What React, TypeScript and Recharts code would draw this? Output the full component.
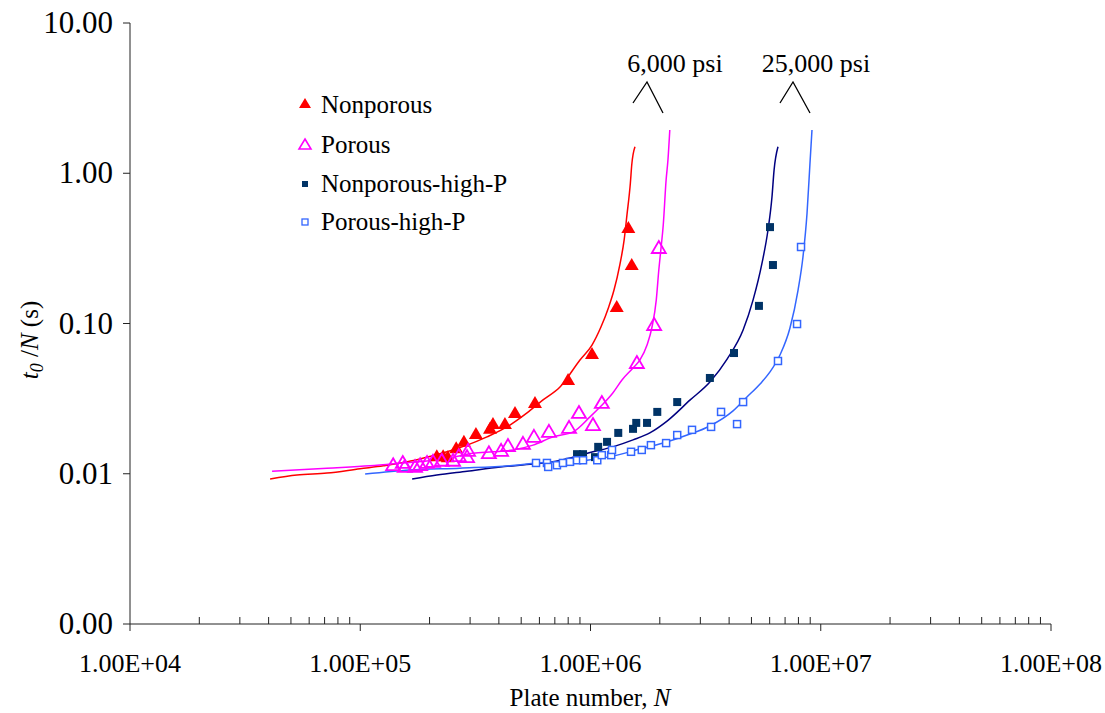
import { ScatterChart, Scatter, XAxis, YAxis } from 'recharts'

const FONT = 'Liberation Serif, Tinos, DejaVu Serif, serif'

// plate number / t0/N measurements
const nonporousN = [2.15e5, 2.29e5, 2.4e5, 2.61e5, 2.82e5, 3.18e5, 3.66e5, 3.77e5, 4.25e5, 4.7e5, 5.74e5, 7.99e5, 1.015e6, 1.3e6, 1.51e6, 1.46e6]
const nonporousT = [0.0131, 0.0131, 0.0129, 0.0148, 0.0163, 0.0184, 0.0199, 0.0214, 0.0214, 0.0254, 0.0296, 0.0421, 0.0627, 0.129, 0.245, 0.432]

const porousN = [1.39e5, 1.53e5, 1.56e5, 1.73e5, 1.82e5, 1.95e5, 2.07e5, 2.26e5, 2.53e5, 2.68e5, 2.91e5, 2.94e5, 3.62e5, 4.09e5, 4.38e5, 5.09e5, 5.68e5, 6.6e5, 8.07e5, 8.91e5, 1.025e6, 1.12e6, 1.59e6, 1.89e6, 1.98e6]
const porousT = [0.0114, 0.0118, 0.0111, 0.0111, 0.0114, 0.0118, 0.012, 0.0122, 0.0122, 0.0131, 0.0129, 0.0142, 0.0137, 0.0142, 0.0153, 0.0158, 0.0176, 0.019, 0.0202, 0.0254, 0.0211, 0.0296, 0.0546, 0.0977, 0.318]

const nonporousHiN = [8.74e5, 9.28e5, 1.046e6, 1.08e6, 1.18e6, 1.32e6, 1.53e6, 1.58e6, 1.76e6, 1.95e6, 2.38e6, 3.3e6, 4.2e6, 5.39e6, 6.2e6, 6.02e6]
const nonporousHiT = [0.0135, 0.0135, 0.0129, 0.0151, 0.0163, 0.0187, 0.0199, 0.0218, 0.0218, 0.0258, 0.03, 0.0434, 0.0636, 0.131, 0.245, 0.438]

const porousHiN = [5.8e5, 6.47e5, 6.55e5, 7.15e5, 7.59e5, 8.15e5, 8.74e5, 9.28e5, 1.07e6, 1.12e6, 1.23e6, 1.24e6, 1.5e6, 1.67e6, 1.83e6, 2.13e6, 2.38e6, 2.76e6, 3.34e6, 3.69e6, 4.33e6, 4.6e6, 6.52e6, 7.89e6, 8.21e6]
const porousHiT = [0.0118, 0.0118, 0.0111, 0.0114, 0.0118, 0.012, 0.0123, 0.0123, 0.0123, 0.0133, 0.0133, 0.0144, 0.014, 0.0144, 0.0155, 0.016, 0.0181, 0.0196, 0.0205, 0.0258, 0.0214, 0.03, 0.0563, 0.0992, 0.323]

// fitted curves
const fitNonporousN = [4.06e4, 5.31e4, 7.17e4, 9.97e4, 1.26e5, 1.6e5, 1.95e5, 2.38e5, 2.91e5, 3.55e5, 4.34e5, 5.3e5, 6.22e5, 7.37e5, 9.0e5, 1.015e6, 1.11e6, 1.2e6, 1.265e6, 1.34e6, 1.4e6, 1.44e6, 1.49e6, 1.51e6, 1.56e6]
const fitNonporousT = [0.00923, 0.00981, 0.0101, 0.0108, 0.0113, 0.012, 0.0129, 0.014, 0.0155, 0.0176, 0.0205, 0.0254, 0.031, 0.0378, 0.0572, 0.0719, 0.0948, 0.129, 0.167, 0.245, 0.36, 0.528, 0.861, 1.13, 1.5]

const fitPorousN = [4.14e4, 7.17e4, 1.1e5, 1.53e5, 2.07e5, 2.53e5, 3.09e5, 3.77e5, 4.61e5, 5.63e5, 6.87e5, 8.4e5, 9.95e5, 1.1e6, 1.25e6, 1.37e6, 1.53e6, 1.64e6, 1.76e6, 1.85e6, 1.93e6, 1.98e6, 2.02e6, 2.07e6, 2.13e6, 2.17e6, 2.21e6]
const fitPorousT = [0.0104, 0.0109, 0.0113, 0.0118, 0.0123, 0.0129, 0.0137, 0.014, 0.0144, 0.0155, 0.0176, 0.019, 0.0239, 0.0278, 0.0345, 0.0421, 0.0506, 0.0572, 0.0719, 0.0948, 0.143, 0.227, 0.308, 0.452, 0.902, 1.23, 1.94]

const fitNonporousHiN = [1.68e5, 2.15e5, 2.91e5, 4.05e5, 5.63e5, 6.87e5, 8.4e5, 1.025e6, 1.25e6, 1.53e6, 1.81e6, 2.15e6, 2.71e6, 3.3e6, 3.92e6, 4.6e6, 5.08e6, 5.56e6, 5.9e6, 6.14e6, 6.27e6, 6.52e6]
const fitNonporousHiT = [0.00923, 0.00981, 0.0104, 0.0111, 0.0116, 0.012, 0.0129, 0.014, 0.0151, 0.0168, 0.0187, 0.0224, 0.031, 0.0408, 0.058, 0.0905, 0.143, 0.253, 0.419, 0.695, 1.05, 1.5]

const fitPorousHiN = [1.05e5, 1.64e5, 2.71e5, 4.47e5, 5.87e5, 7.37e5, 9.66e5, 1.25e6, 1.64e6, 2.07e6, 2.63e6, 3.3e6, 4.16e6, 4.78e6, 5.45e6, 6.02e6, 6.65e6, 7.35e6, 7.97e6, 8.37e6, 8.72e6, 8.98e6, 9.16e6]
const fitPorousHiT = [0.00995, 0.0106, 0.0109, 0.0113, 0.0118, 0.012, 0.0123, 0.0131, 0.0146, 0.016, 0.0181, 0.0208, 0.0262, 0.0324, 0.0396, 0.0476, 0.0617, 0.0933, 0.167, 0.277, 0.544, 1.17, 1.94]

const xTicks = [1e4, 2e4, 3e4, 4e4, 5e4, 6e4, 7e4, 8e4, 9e4, 1e5, 2e5, 3e5, 4e5, 5e5, 6e5, 7e5, 8e5, 9e5, 1e6, 2e6, 3e6, 4e6, 5e6, 6e6, 7e6, 8e6, 9e6, 1e7, 2e7, 3e7, 4e7, 5e7, 6e7, 7e7, 8e7, 9e7, 1e8]
const yTicks = [0.001, 0.01, 0.1, 1, 10]

const zip = (n: number[], t: number[]) => n.map((v, i) => ({ n: v, t: t[i] }))

const isDecade = (v: number) => Math.abs(Math.log10(v) - Math.round(Math.log10(v))) < 1e-9
const sciLabel = (v: number) => {
  const e = Math.round(Math.log10(v))
  return `1.00E+${String(e).padStart(2, '0')}`
}

function XTick(props: any) {
  const { x, y, payload } = props
  const major = isDecade(payload.value)
  return (
    <g>
      <line x1={x} x2={x} y1={y} y2={major ? y + 7 : y - 7} stroke="#222" strokeWidth={1} />
      {major && (
        <text x={x} y={y + 48} textAnchor="middle" fontSize={26} fontFamily={FONT} fill="#000">
          {sciLabel(payload.value)}
        </text>
      )}
    </g>
  )
}

function YTick(props: any) {
  const { x, y, payload } = props
  return (
    <text x={x} y={y} dy={10} textAnchor="end" fontSize={31} fontFamily={FONT} fill="#000">
      {payload.value.toFixed(2)}
    </text>
  )
}

const FilledTriangle = ({ cx, cy }: any) => (
  <polygon points={`${cx},${cy - 7} ${cx + 7},${cy + 5} ${cx - 7},${cy + 5}`} fill="#FF0000" />
)
const OpenTriangle = ({ cx, cy }: any) => (
  <polygon points={`${cx},${cy - 7} ${cx + 7},${cy + 5} ${cx - 7},${cy + 5}`} fill="none" stroke="#FF00FF" strokeWidth={1.8} />
)
const FilledSquare = ({ cx, cy }: any) => <rect x={cx - 4} y={cy - 4} width={8} height={8} fill="#003366" />
const OpenSquare = ({ cx, cy }: any) => (
  <rect x={cx - 3.5} y={cy - 3.5} width={7} height={7} fill="#fff" stroke="#3366FF" strokeWidth={1.5} />
)
const NoDot = () => <g />

const legendRows = [
  { label: 'Nonporous', y: 105, marker: <polygon points="305,98 311,108 299,108" fill="#FF0000" /> },
  { label: 'Porous', y: 145, marker: <polygon points="305,139 311,149 299,149" fill="none" stroke="#FF00FF" strokeWidth={1.6} /> },
  { label: 'Nonporous-high-P', y: 184, marker: <rect x={302} y={181} width={6} height={6} fill="#003366" /> },
  { label: 'Porous-high-P', y: 222, marker: <rect x={302} y={219} width={6} height={6} fill="#fff" stroke="#3366FF" strokeWidth={1.3} /> },
]

export default function App() {
  return (
    <div style={{ position: 'absolute', left: 0, top: 0, width: 1105, height: 713, background: '#fff', fontFamily: FONT }}>
      <ScatterChart width={1105} height={713} margin={{ top: 23, right: 54, bottom: 29, left: 0 }}>
        <XAxis
          type="number"
          dataKey="n"
          scale="log"
          domain={[1e4, 1e8]}
          ticks={xTicks}
          interval={0}
          allowDataOverflow
          height={60}
          tickSize={0}
          tickMargin={0}
          tickLine={false}
          axisLine={{ stroke: '#222' }}
          tick={<XTick />}
        />
        <YAxis
          type="number"
          dataKey="t"
          scale="log"
          domain={[0.001, 10]}
          ticks={yTicks}
          interval={0}
          allowDataOverflow
          width={130}
          tickSize={7}
          tickMargin={10}
          axisLine={{ stroke: '#222' }}
          tickLine={{ stroke: '#222' }}
          tick={<YTick />}
        />
        <Scatter data={zip(fitNonporousN, fitNonporousT)} line={{ stroke: '#FF0000', strokeWidth: 1.5 }} lineJointType="monotoneX" shape={NoDot} isAnimationActive={false} />
        <Scatter data={zip(fitPorousN, fitPorousT)} line={{ stroke: '#FF00FF', strokeWidth: 1.5 }} lineJointType="monotoneX" shape={NoDot} isAnimationActive={false} />
        <Scatter data={zip(fitNonporousHiN, fitNonporousHiT)} line={{ stroke: '#000080', strokeWidth: 1.5 }} lineJointType="monotoneX" shape={NoDot} isAnimationActive={false} />
        <Scatter data={zip(fitPorousHiN, fitPorousHiT)} line={{ stroke: '#3366FF', strokeWidth: 1.5 }} lineJointType="monotoneX" shape={NoDot} isAnimationActive={false} />
        <Scatter name="Nonporous" data={zip(nonporousN, nonporousT)} shape={FilledTriangle} isAnimationActive={false} />
        <Scatter name="Porous" data={zip(porousN, porousT)} shape={OpenTriangle} isAnimationActive={false} />
        <Scatter name="Nonporous-high-P" data={zip(nonporousHiN, nonporousHiT)} shape={FilledSquare} isAnimationActive={false} />
        <Scatter name="Porous-high-P" data={zip(porousHiN, porousHiT)} shape={OpenSquare} isAnimationActive={false} />
      </ScatterChart>

      <svg width={1105} height={713} style={{ position: 'absolute', left: 0, top: 0, pointerEvents: 'none', fontFamily: FONT }}>
        {legendRows.map((r) => (
          <g key={r.label}>
            {r.marker}
            <text x={321} y={r.y} dy={8} fontSize={25} fill="#000">
              {r.label}
            </text>
          </g>
        ))}

        <text x={675} y={72} textAnchor="middle" fontSize={26} fill="#000">6,000 psi</text>
        <polyline points="633,103 647,82 663,113" fill="none" stroke="#000" strokeWidth={1.3} />
        <text x={816} y={72} textAnchor="middle" fontSize={26} fill="#000">25,000 psi</text>
        <polyline points="780,103 793,82 810,113" fill="none" stroke="#000" strokeWidth={1.3} />

        <text x={590} y={706} textAnchor="middle" fontSize={25} fill="#000">
          Plate number, <tspan fontStyle="italic">N</tspan>
        </text>
        <text transform="translate(38,340) rotate(-90)" textAnchor="middle" fontSize={25} fill="#000">
          <tspan fontStyle="italic">t</tspan>
          <tspan fontStyle="italic" fontSize={18} dy={5}>0</tspan>
          <tspan dy={-5}> /</tspan>
          <tspan fontStyle="italic">N</tspan>
          <tspan> (s)</tspan>
        </text>
      </svg>
    </div>
  )
}
